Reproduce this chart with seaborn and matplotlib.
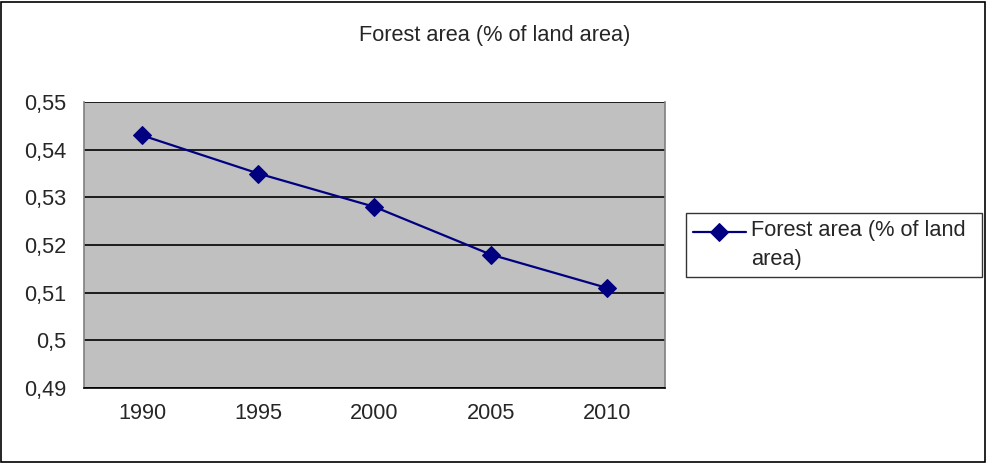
import matplotlib
matplotlib.use("Agg")
import matplotlib.pyplot as plt
import matplotlib.ticker as mticker
from matplotlib.patches import Rectangle
from matplotlib.legend_handler import HandlerLine2D
import seaborn as sns
import pandas as pd
import numpy as np

years = ["1990", "1995", "2000", "2005", "2010"]
values = [0.543, 0.535, 0.528, 0.518, 0.511]
series_name = "Forest area (% of land area)"
yticks = [0.49, 0.50, 0.51, 0.52, 0.53, 0.54, 0.55]

sns.set_style("white")
plt.rcParams['font.family'] = ['Liberation Sans', 'DejaVu Sans']

FS = 15.7


class RaisedHandler(HandlerLine2D):
    def create_artists(self, legend, orig_handle, xdescent, ydescent, width, height, fontsize, trans):
        arts = super().create_artists(legend, orig_handle, xdescent, ydescent, width, height, fontsize, trans)
        for a in arts:
            a.set_ydata(np.asarray(a.get_ydata()) + 9.5)
        return arts


df = pd.DataFrame({"year": years, "value": values})
df["pos"] = range(len(years))

fig = plt.figure(figsize=(9.87, 4.63), dpi=100)
ax = fig.add_axes([84/987, 1 - 388/463, (665-84)/987, (388-102)/463])
ax.set_facecolor("#C0C0C0")

sns.lineplot(data=df, x="pos", y="value", ax=ax, color="#000080", marker="D",
             markersize=9, markeredgecolor="#000080", linewidth=1.6, label=series_name)

ax.set_xlim(-0.5, len(years) - 0.5)
ax.set_ylim(0.49, 0.55)
ax.set_yticks(yticks)
ax.yaxis.set_major_formatter(mticker.FuncFormatter(lambda v, p: (f"{v:.2f}".rstrip("0").rstrip(".")).replace(".", ",")))
ax.set_xticks(range(len(years)))
ax.set_xticklabels(years)
ax.set_xticks([i - 0.5 for i in range(len(years) + 1)], minor=True)
ax.tick_params(axis="x", which="major", length=0, labelsize=FS, pad=11)
ax.tick_params(axis="x", which="minor", length=7, color="#808080", width=1, direction="out")
ax.tick_params(axis="y", length=6, color="#808080", width=1, direction="out", labelsize=FS, pad=7)
ax.grid(axis="y", color="black", linewidth=1.2)
ax.set_axisbelow(True)
ax.set_xlabel("")
ax.set_ylabel("")
ax.spines["top"].set_visible(False)
ax.spines["left"].set_color("#808080")
ax.spines["right"].set_color("#808080")
ax.spines["bottom"].set_color("black")
for s in ax.spines.values():
    s.set_linewidth(1.2)

fig.text(495/987, 1 - 36/463, series_name, ha="center", va="center", fontsize=FS)

handles, labels = ax.get_legend_handles_labels()
leg = ax.legend(handles, ["Forest area (% of land\narea)"], loc="center left",
                bbox_to_anchor=(686/987, 1 - 278/463, (982-686)/987, (278-212)/463),
                bbox_transform=fig.transFigure, frameon=True, fancybox=False, fontsize=FS,
                borderaxespad=0, handlelength=2.45, handletextpad=0.25, mode="expand", borderpad=0.3,
                handler_map={handles[0]: RaisedHandler()})
leg.get_frame().set_edgecolor("black")
leg.get_frame().set_linewidth(1)
leg.texts[0].set_linespacing(1.5)

fig.patches.append(Rectangle((1/987, 1/463), 984/987, 460/463, transform=fig.transFigure,
                             fill=False, edgecolor="black", linewidth=1.2))

fig.savefig("out.png", dpi=100)
